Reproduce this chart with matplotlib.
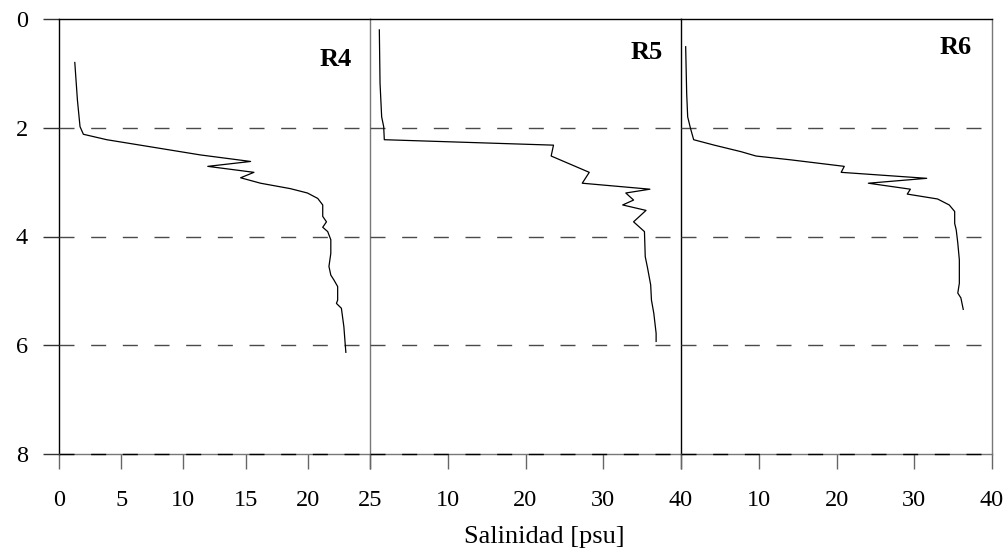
#Salinity profiles at stations R4, R5 and R6
#Importing required modules
import numpy as np
import matplotlib.pyplot as plt

plt.rcParams['font.family'] = ['Liberation Serif', 'DejaVu Serif']

#Station R4 : salinity [psu] and depth
sal_r4 = [1.27, 1.48, 1.69, 1.96, 3.84, 7.34, 11.37, 15.4, 11.96, 15.67, 14.6, 16.2,
          18.6, 19.97, 20.8, 21.2, 21.2, 21.5, 21.2, 21.6, 21.85, 21.85, 21.7, 21.85,
          22.1, 22.4, 22.4, 22.3, 22.7, 22.9, 23.0, 23.06]
dep_r4 = [0.80, 1.49, 1.98, 2.12, 2.22, 2.35, 2.50, 2.62, 2.71, 2.82, 2.92, 3.02,
          3.12, 3.20, 3.30, 3.42, 3.63, 3.73, 3.83, 3.91, 4.06, 4.31, 4.55, 4.71,
          4.80, 4.92, 5.17, 5.23, 5.32, 5.66, 5.96, 6.13]

#Station R5
sal_r5 = [1.20, 1.29, 1.50, 1.76, 1.84, 23.6, 23.3, 28.2, 27.3, 36.0, 32.9, 33.9,
          32.5, 35.5, 33.9, 35.3, 35.4, 35.7, 36.1, 36.2, 36.5, 36.8, 36.8]
dep_r5 = [0.20, 1.18, 1.80, 1.98, 2.22, 2.32, 2.52, 2.82, 3.02, 3.13, 3.20, 3.33,
          3.42, 3.52, 3.73, 3.91, 4.37, 4.58, 4.89, 5.17, 5.41, 5.78, 5.93]

#Station R6
sal_r6 = [0.60, 0.73, 0.86, 1.20, 1.63, 4.28, 7.72, 9.65, 14.1, 21.0, 20.6, 31.6,
          24.1, 29.5, 29.1, 33.0, 34.5, 35.2, 35.2, 35.4, 35.6, 35.8, 35.8, 35.6,
          36.0, 36.3]
dep_r6 = [0.51, 1.37, 1.80, 2.00, 2.22, 2.32, 2.44, 2.52, 2.59, 2.71, 2.82, 2.93,
          3.02, 3.13, 3.22, 3.31, 3.42, 3.54, 3.76, 3.88, 4.12, 4.43, 4.86, 5.04,
          5.13, 5.34]

stations = ['R4', 'R5', 'R6']
xmax = [25, 40, 40]                          #Upper salinity limit per panel
xticks = [[0, 5, 10, 15, 20, 25], [0, 10, 20, 30, 40], [0, 10, 20, 30, 40]]
xlabels = [['0', '5', '10', '15', '20', '25'], ['', '10', '20', '30', '40'],
           ['', '10', '20', '30', '40']]
yticks = [0, 2, 4, 6, 8]
label_pos = [(23.5, 0.75), (37.6, 0.61), (37.4, 0.53)]  #Station name position
sal = [sal_r4, sal_r5, sal_r6]
dep = [dep_r4, dep_r5, dep_r6]

fig = plt.figure(figsize=(10.08, 5.59), dpi=100)
left, bottom, width, height = 59/1008, 1-454/559, 311/1008, 435/559

for i in range(3):
    ax = fig.add_axes([left + i*width, bottom, width, height])
    #Dashed depth lines
    for d in [2, 4, 6, 8]:
        ax.axhline(d, color='#4a4a4a' if d < 8 else 'black', lw=1.0,
                   linestyle=(0, (10.8, 12)), zorder=3, clip_on=False)
    ax.plot(sal[i], dep[i], color='black', lw=0.9, zorder=4)  #Profile
    ax.set_xlim(0, xmax[i])
    ax.set_ylim(8, 0)                        #Depth grows downwards
    ax.set_xticks(xticks[i])
    ax.set_xticklabels(xlabels[i])
    ax.tick_params(axis='x', direction='out', length=11, width=1, color='#666666',
                   pad=15, labelsize=17.5)
    if i == 0:
        ax.set_yticks(yticks)
        ax.set_yticklabels([str(v) for v in yticks])
        ax.tick_params(axis='y', direction='out', length=11.5, width=1, color='#333333',
                       pad=11, labelsize=17.5)
    else:
        ax.set_yticks([])
    ax.spines['top'].set_color('black')
    ax.spines['bottom'].set_color('#777777')
    ax.spines['left'].set_color('#777777' if i == 1 else 'black')
    ax.spines['right'].set_visible(i == 2)
    ax.spines['right'].set_color('#777777')
    for s in ax.spines.values():
        s.set_linewidth(1.0)
    ax.text(label_pos[i][0], label_pos[i][1], stations[i], ha='right', va='center',
            fontsize=19, fontweight='bold')

fig.text(544/1008, 1-537/559, 'Salinidad [psu]', ha='center', va='center', fontsize=19)

plt.savefig('out.png', dpi=100)
